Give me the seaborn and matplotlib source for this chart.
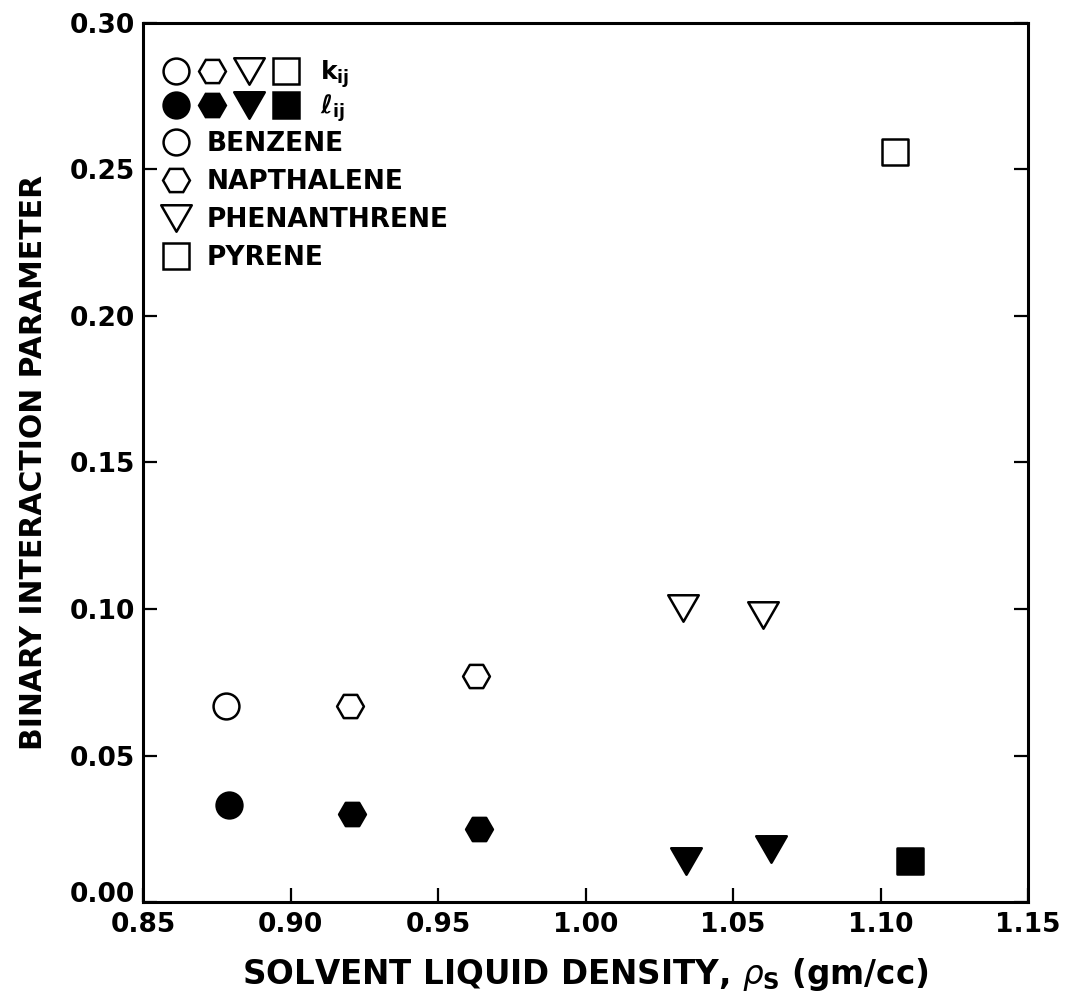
import numpy as np
import pandas as pd
import matplotlib
matplotlib.use("Agg")
import matplotlib.pyplot as plt
import seaborn as sns
from matplotlib.lines import Line2D
from matplotlib.path import Path
from matplotlib.legend_handler import HandlerTuple

# ---- data ----
solute = ["BENZENE", "NAPTHALENE", "NAPTHALENE", "PHENANTHRENE", "PHENANTHRENE", "PYRENE"]
k_density = [0.878, 0.920, 0.963, 1.033, 1.060, 1.105]
k_values = [0.067, 0.067, 0.077, 0.1005, 0.098, 0.256]
l_density = [0.879, 0.921, 0.964, 1.034, 1.063, 1.110]
l_values = [0.033, 0.030, 0.025, 0.014, 0.018, 0.014]
legend_order = ["BENZENE", "NAPTHALENE", "PHENANTHRENE", "PYRENE"]
x_ticks = [0.85, 0.90, 0.95, 1.00, 1.05, 1.10, 1.15]
y_ticks = [0.00, 0.05, 0.10, 0.15, 0.20, 0.25, 0.30]

sns.set_style("white")
plt.rcParams["font.family"] = ["DejaVu Sans"]
plt.rcParams["mathtext.fontset"] = "dejavusans"
for key in ["text.color", "axes.labelcolor", "xtick.color", "ytick.color", "axes.edgecolor"]:
    plt.rcParams[key] = "black"

tri = Path(np.array([(-1.0, 0.866), (1.0, 0.866), (0.0, -0.866), (-1.0, 0.866)]), closed=True)
markers = {"BENZENE": "o", "NAPTHALENE": "H", "PHENANTHRENE": tri, "PYRENE": "s"}
msize = {"BENZENE": 18.6, "NAPTHALENE": 19.3, "PHENANTHRENE": 22.0, "PYRENE": 19.0}
lw = 1.8

df_k = pd.DataFrame({"density": k_density, "value": k_values, "solute": solute})
df_l = pd.DataFrame({"density": l_density, "value": l_values, "solute": solute})

fig = plt.figure(figsize=(10.7, 10.05), dpi=100)
ax = fig.add_axes([143 / 1070, 1 - 902 / 1005, 885 / 1070, 879 / 1005])

for name in legend_order:
    sub_k = df_k[df_k["solute"] == name]
    sub_l = df_l[df_l["solute"] == name]
    sns.scatterplot(data=sub_k, x="density", y="value", marker=markers[name],
                    s=msize[name] ** 2, color="white", edgecolor="black",
                    linewidth=lw, ax=ax, zorder=3, legend=False)
    sns.scatterplot(data=sub_l, x="density", y="value", marker=markers[name],
                    s=msize[name] ** 2, color="black", edgecolor="black",
                    linewidth=lw, ax=ax, zorder=3, legend=False)

ax.set_xlim(0.85, 1.15)
ax.set_ylim(0.0, 0.30)
ax.set_xticks(x_ticks)
ax.set_yticks(y_ticks)
ax.set_xticklabels([f"{v:.2f}" for v in x_ticks])
ax.set_yticklabels([f"{v:.2f}" for v in y_ticks])
for sp in ax.spines.values():
    sp.set_linewidth(2.2)
    sp.set_color("black")
ax.tick_params(axis="both", direction="in", length=10, width=1.6, colors="black",
               labelsize=19, right=True, top=False, left=True, bottom=True)
ax.tick_params(axis="x", pad=7)
ax.tick_params(axis="y", pad=6)
for t in ax.get_xticklabels() + ax.get_yticklabels():
    t.set_fontweight("bold")
# bottom y label sits on the axis line, as in the reference
ax.get_yticklabels()[0].set_verticalalignment("baseline")

ax.set_xlabel(r"SOLVENT LIQUID DENSITY, $\rho_{\mathbf{S}}$ (gm/cc)",
              fontsize=23.5, fontweight="bold", labelpad=13)
ax.set_ylabel("BINARY INTERACTION PARAMETER", fontsize=21.5, fontweight="bold",
              labelpad=15)

# ---- legends ----
def handle(name, face):
    return Line2D([], [], ls="none", marker=markers[name], ms=msize[name],
                  mfc=face, mec="black", mew=lw)

open_h = tuple(handle(n, "white") for n in legend_order)
fill_h = tuple(handle(n, "black") for n in legend_order)
legA = ax.legend([open_h, fill_h],
                 [r"$\mathbf{k}_{\mathbf{ij}}$", r"$\mathbf{\ell}_{\mathbf{ij}}$"],
                 handler_map={tuple: HandlerTuple(ndivide=None, pad=0)},
                 loc="upper left", bbox_to_anchor=(0.016, 0.96),
                 frameon=False, handlelength=5.9, handletextpad=0.6,
                 fontsize=18, borderpad=0, borderaxespad=0, labelspacing=0.09,
                 numpoints=1)
ax.add_artist(legA)
for t in legA.get_texts():
    t.set_fontweight("bold")

legB = ax.legend([handle(n, "white") for n in legend_order], legend_order,
                 loc="upper left", bbox_to_anchor=(0.0217, 0.877),
                 frameon=False, handlelength=1.05, handletextpad=0.65,
                 borderpad=0, borderaxespad=0, labelspacing=0.45,
                 numpoints=1, prop={"weight": "bold", "size": 19})

fig.savefig("out.png", dpi=100)
